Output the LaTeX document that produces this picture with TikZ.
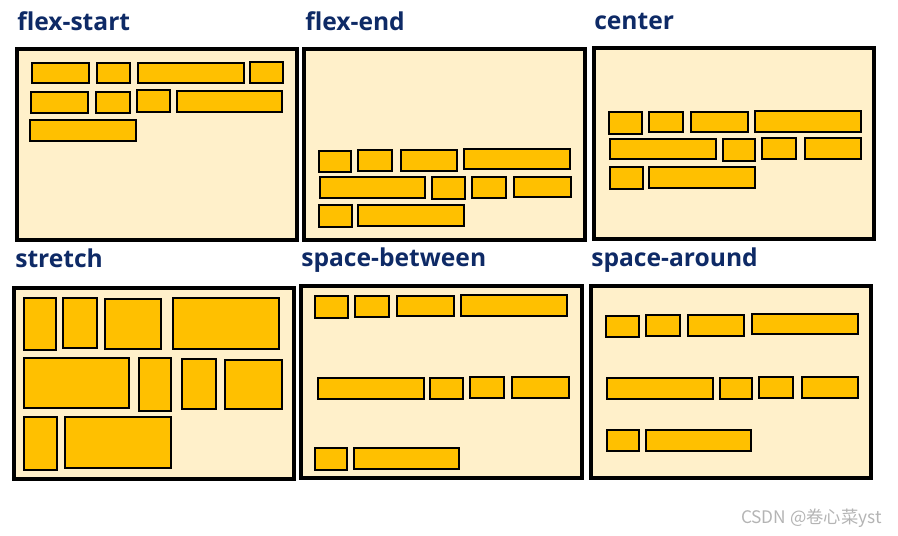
\documentclass[tikz,border=0pt]{standalone}
\usepackage{fontspec}
\setsansfont{Open Sans}
\newfontfamily\cjkfont{Noto Sans CJK SC}
\usepackage{tikz}
\usetikzlibrary{positioning}
\definecolor{cPanel}{HTML}{FFF0CA}
\definecolor{cItem}{HTML}{FFC000}
\definecolor{cTitle}{HTML}{0E2A66}
\definecolor{cMark}{HTML}{B4B4B4}
\tikzset{
  panel/.style   ={draw=black, line width=2.3pt, fill=cPanel},
  flexitem/.style={draw=black, line width=2.1pt, fill=cItem},
  title/.style   ={font=\sffamily\bfseries\fontsize{17.5}{20}\selectfont, text=cTitle, anchor=base west, inner sep=0pt},
}
\newcommand{\bx}[4]{\draw[flexitem] (#1,#2) rectangle (#3,#4);}

\begin{document}
\begin{tikzpicture}[x=0.025cm,y=-0.025cm]
        \useasboundingbox (0,0) rectangle (898,536);
        % flex-start
        \node[title] (tStart) at (17,31) {flex-start};
        \draw[panel] (17,49) rectangle (297,240);
        \bx{32}{63}{89}{83} \bx{97}{63}{130}{83} \bx{138}{63}{244}{83} \bx{250}{62}{283}{83}
        \bx{31}{92}{88}{113} \bx{96}{92}{130}{113} \bx{137}{90}{170}{112} \bx{177}{91}{282}{112}
        \bx{30}{120}{136}{141}
        % flex-end
        \node[title] (tEnd) at (305,31) {flex-end};
        \draw[panel] (304,49) rectangle (585,240);
        \bx{319}{151}{351}{172} \bx{358}{150}{392}{171} \bx{401}{150}{457}{171} \bx{464}{149}{570}{169}
        \bx{320}{177}{425}{198} \bx{432}{177}{465}{199} \bx{472}{177}{506}{198} \bx{514}{177}{571}{197}
        \bx{319}{205}{352}{227} \bx{358}{205}{464}{226}
        % center
        \node[title] (tCenter) at (594,29.5) {center};
        \draw[panel] (594,48) rectangle (874,239);
        \bx{609}{112}{642}{134} \bx{649}{112}{683}{132} \bx{691}{112}{748}{132} \bx{755}{111}{861}{132}
        \bx{610}{139}{716}{159} \bx{723}{139}{755}{161} \bx{762}{138}{796}{159} \bx{805}{138}{861}{159}
        \bx{610}{167}{643}{189} \bx{649}{167}{755}{188}
        % stretch
        \node[title] (tStretch) at (15,268) {stretch};
        \draw[panel] (14,288) rectangle (294,479);
        \bx{24}{298}{56}{350} \bx{63}{298}{97}{348} \bx{105}{299}{161}{349} \bx{173}{298}{279}{349}
        \bx{24}{358}{129}{408} \bx{139}{358}{171}{411} \bx{182}{359}{216}{409} \bx{225}{360}{282}{409}
        \bx{24}{417}{57}{470} \bx{65}{417}{171}{468}
        % space-between
        \node[title] (tBetween) at (301,267) {space-between};
        \draw[panel] (301,286) rectangle (582,478);
        \bx{315}{296}{348}{318} \bx{355}{296}{389}{317} \bx{397}{296}{454}{316} \bx{461}{295}{567}{316}
        \bx{318}{378}{424}{399} \bx{430}{378}{463}{399} \bx{470}{377}{504}{398} \bx{512}{377}{569}{398}
        \bx{315}{448}{347}{470} \bx{354}{448}{459}{469}
        % space-around
        \node[title] (tAround) at (591,267) {space-around};
        \draw[panel] (591,286) rectangle (871,478);
        \bx{606}{316}{639}{337} \bx{646}{315}{680}{336} \bx{688}{315}{744}{336} \bx{752}{314}{858}{334}
        \bx{607}{378}{713}{399} \bx{720}{378}{752}{399} \bx{759}{377}{793}{398} \bx{802}{377}{858}{398}
        \bx{607}{430}{639}{451} \bx{646}{430}{751}{451}
        \node[font=\cjkfont\fontsize{12.3}{14}\selectfont, text=cMark, anchor=base east, inner sep=0pt] (mark) at (882,523) {CSDN @卷心菜yst};
      \end{tikzpicture}
\end{document}
